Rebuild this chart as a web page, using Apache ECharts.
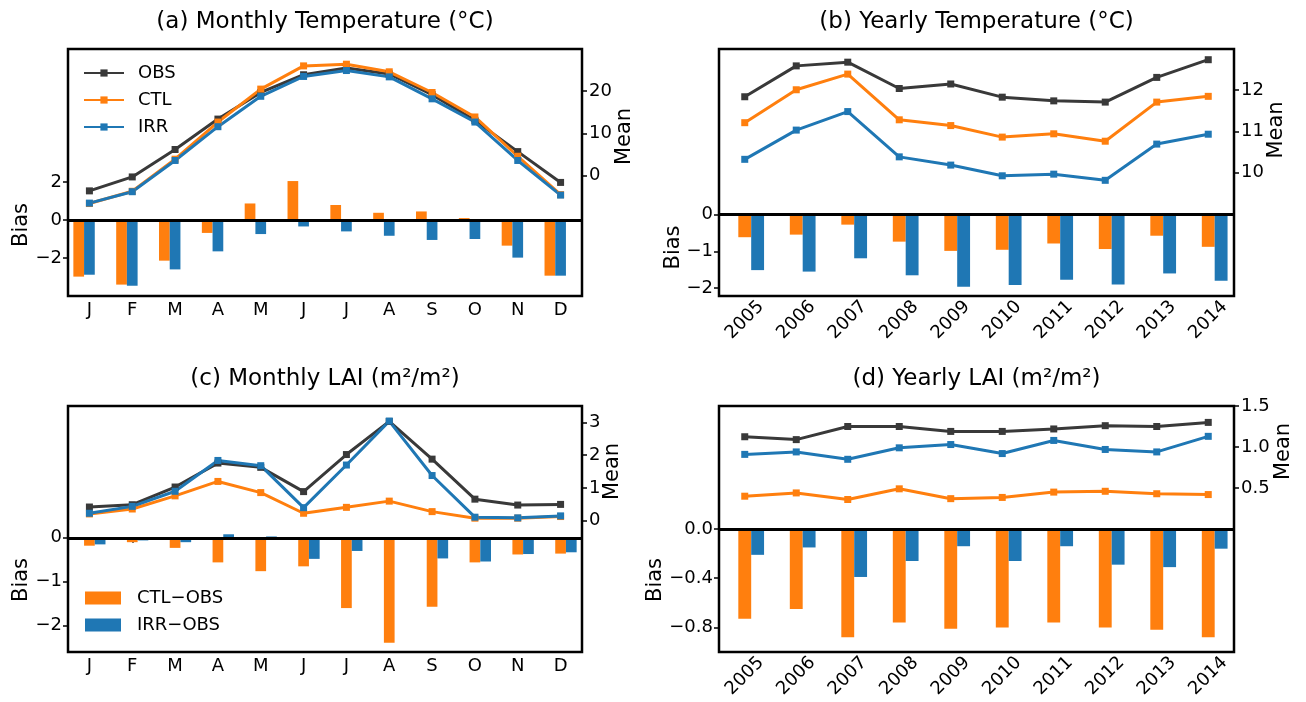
<!DOCTYPE html>
<html><head><meta charset="utf-8">
<script src="https://cdn.jsdelivr.net/npm/echarts@6/dist/echarts.min.js"></script>
<style>html,body{margin:0;padding:0;background:#fff}#c{width:1306px;height:702px}</style>
</head><body><div id="c"></div>
<script>
// ---------- categories ----------
const months = ['J','F','M','A','M','J','J','A','S','O','N','D'];
const years = ['2005','2006','2007','2008','2009','2010','2011','2012','2013','2014'];

// ---------- (a) Monthly temperature ----------
const tempMonthOBS = [-3.6,-0.3,6.2,13.4,19.7,23.9,25.5,24.1,19.2,13.1,5.7,-1.6];
const tempMonthCTL = [-6.6,-3.7,3.9,12.7,20.5,26.0,26.4,24.6,19.7,13.9,4.6,-4.5];
const tempMonthIRR = [-6.5,-3.8,3.6,11.6,18.8,23.5,24.9,23.4,18.2,12.7,3.6,-4.6];
const tempMonthBiasCTL = [-2.98,-3.4,-2.14,-0.68,0.87,2.05,0.79,0.38,0.45,0.1,-1.35,-2.93];
const tempMonthBiasIRR = [-2.88,-3.46,-2.6,-1.65,-0.74,-0.34,-0.6,-0.83,-1.05,-1.0,-1.98,-2.93];

// ---------- (b) Yearly temperature ----------
const tempYearOBS = [11.84,12.59,12.68,12.04,12.15,11.83,11.74,11.71,12.31,12.74];
const tempYearCTL = [11.21,12.01,12.39,11.28,11.14,10.86,10.94,10.76,11.71,11.85];
const tempYearIRR = [10.32,11.03,11.48,10.38,10.18,9.92,9.96,9.81,10.69,10.93];
const tempYearBiasCTL = [-0.62,-0.55,-0.28,-0.74,-0.99,-0.96,-0.79,-0.94,-0.58,-0.88];
const tempYearBiasIRR = [-1.51,-1.55,-1.19,-1.65,-1.96,-1.91,-1.77,-1.90,-1.60,-1.80];

// ---------- (c) Monthly LAI ----------
const laiMonthOBS = [0.42,0.49,1.03,1.76,1.63,0.89,2.02,3.03,1.88,0.66,0.48,0.5];
const laiMonthCTL = [0.21,0.36,0.76,1.2,0.86,0.23,0.41,0.6,0.28,0.08,0.08,0.13];
const laiMonthIRR = [0.23,0.44,0.9,1.84,1.68,0.4,1.7,3.04,1.38,0.11,0.09,0.15];
const laiMonthBiasCTL = [-0.18,-0.1,-0.23,-0.56,-0.76,-0.65,-1.6,-2.39,-1.57,-0.56,-0.38,-0.36];
const laiMonthBiasIRR = [-0.15,-0.06,-0.1,0.08,0.03,-0.48,-0.3,0.0,-0.47,-0.54,-0.37,-0.33];

// ---------- (d) Yearly LAI ----------
const laiYearOBS = [1.125,1.09,1.25,1.25,1.19,1.19,1.22,1.26,1.25,1.30];
const laiYearCTL = [0.40,0.44,0.36,0.49,0.37,0.385,0.45,0.46,0.43,0.42];
const laiYearIRR = [0.91,0.94,0.85,0.99,1.03,0.92,1.08,0.97,0.94,1.13];
const laiYearBiasCTL = [-0.73,-0.65,-0.88,-0.76,-0.81,-0.80,-0.76,-0.80,-0.82,-0.88];
const laiYearBiasIRR = [-0.21,-0.15,-0.39,-0.26,-0.14,-0.26,-0.14,-0.29,-0.31,-0.16];

// ---------- tick labels ----------
const ticksBiasA = [-2,0,2],      ticksMeanA = [0,10,20];
const ticksBiasB = [-2,-1,0],     ticksMeanB = [10,11,12];
const ticksBiasC = [-2,-1,0],     ticksMeanC = [0,1,2,3];
const ticksBiasD = [-0.8,-0.4,0], ticksMeanD = [0.5,1.0,1.5];

// ---------- styling ----------
const FONT = 'DejaVu Sans';
const C_OBS = '#393939', C_CTL = '#ff7f0e', C_IRR = '#1f77b4';
const minus = s => String(s).replace('-', '\u2212');
const fmtInt = v => minus(v);
const fmt1 = v => minus(Number(v).toFixed(1));

const panels = [
  {title:'(a) Monthly Temperature (°C)', cats:months, rot:false,
   grid:{left:68, top:49, width:514, height:247},
   bias:{min:-4, max:9, ticks:ticksBiasA, fmt:fmtInt, gap:36, pad:[0,105,0,0]},
   mean:{min:-28.5, max:30, ticks:ticksMeanA, fmt:fmtInt, gap:32, pad:[0,0,0,72]},
   obs:tempMonthOBS, ctl:tempMonthCTL, irr:tempMonthIRR, bctl:tempMonthBiasCTL, birr:tempMonthBiasIRR,
   spacerFirst:false, titleTop:11},
  {title:'(b) Yearly Temperature (°C)', cats:years, rot:true,
   grid:{left:719, top:49, width:515, height:247},
   bias:{min:-2.21, max:4.47, ticks:ticksBiasB, fmt:fmtInt, gap:35, pad:[0,150,0,0]},
   mean:{min:7, max:13, ticks:ticksMeanB, fmt:fmtInt, gap:32, pad:[0,0,0,85]},
   obs:tempYearOBS, ctl:tempYearCTL, irr:tempYearIRR, bctl:tempYearBiasCTL, birr:tempYearBiasIRR,
   spacerFirst:true, titleTop:11},
  {title:'(c) Monthly LAI (m²/m²)', cats:months, rot:false,
   grid:{left:68, top:406, width:514, height:246},
   bias:{min:-2.6, max:3, ticks:ticksBiasC, fmt:fmtInt, gap:36, pad:[0,102,0,0]},
   mean:{min:-4, max:3.5, ticks:ticksMeanC, fmt:fmtInt, gap:20, pad:[0,0,0,115]},
   obs:laiMonthOBS, ctl:laiMonthCTL, irr:laiMonthIRR, bctl:laiMonthBiasCTL, birr:laiMonthBiasIRR,
   spacerFirst:true, titleTop:368},
  {title:'(d) Yearly LAI (m²/m²)', cats:years, rot:true,
   grid:{left:719, top:406, width:515, height:246},
   bias:{min:-1, max:1, ticks:ticksBiasD, fmt:fmt1, gap:53, pad:[0,102,0,0]},
   mean:{min:-1.5, max:1.5, ticks:ticksMeanD, fmt:fmt1, gap:39, pad:[0,0,0,155]},
   obs:laiYearOBS, ctl:laiYearCTL, irr:laiYearIRR, bctl:laiYearBiasCTL, birr:laiYearBiasIRR,
   spacerFirst:true, titleTop:368}
];

const tickStyle = {color:'#000', width:1.5};
const labelText = {fontSize:18, fontFamily:FONT, color:'#000'};

const option = {
  animation:false, backgroundColor:'#fff',
  title:[], grid:[], xAxis:[], yAxis:[], series:[],
  legend:[
    {data:['OBS','CTL','IRR'], orient:'vertical', left:83, top:63, padding:0,
     itemWidth:40, itemHeight:9, itemGap:7,
     textStyle:{fontSize:18, fontFamily:FONT, color:'#000', lineHeight:20, padding:[0,0,0,9]}},
    {data:['CTL\u2212OBS','IRR\u2212OBS'], orient:'vertical', left:85, top:588, padding:0,
     icon:'rect', itemWidth:36, itemHeight:13, itemGap:7,
     textStyle:{fontSize:18, fontFamily:FONT, color:'#000', lineHeight:20, padding:[0,0,0,11]}}
  ]
};

panels.forEach((p, i) => {
  option.title.push({text:p.title, left:p.grid.left + p.grid.width/2, top:p.titleTop, textAlign:'center', padding:0,
    textStyle:{fontSize:23, fontWeight:'normal', fontFamily:FONT, color:'#000'}});
  option.grid.push(Object.assign({show:true, borderColor:'#000', borderWidth:2.5, backgroundColor:'transparent', containLabel:false}, p.grid));
  option.xAxis.push({type:'category', gridIndex:i, data:p.cats, boundaryGap:true,
    axisLine:{show:false}, splitLine:{show:false},
    axisTick:{show:true, alignWithLabel:true, length:5, lineStyle:tickStyle},
    axisLabel: p.rot ? Object.assign({interval:0, rotate:45, align:'center', verticalAlign:'middle', margin:24}, labelText)
                     : Object.assign({interval:0, margin:5}, labelText)});
  [['bias','left','Bias'],['mean','right','Mean']].forEach(([k, side, name]) => {
    const a = p[k];
    option.yAxis.push({type:'value', gridIndex:i, position:side, min:a.min, max:a.max,
      splitLine:{show:false}, axisLine:{show:false},
      axisTick:{show:true, customValues:a.ticks, length:5, lineStyle:tickStyle},
      axisLabel:Object.assign({customValues:a.ticks, margin: side==='left' ? 6 : 7, formatter:a.fmt}, labelText),
      name:name, nameLocation:'middle', nameRotate:90, nameGap:a.gap, nameMoveOverlap:false,
      nameTextStyle:{fontSize:21, fontFamily:FONT, color:'#000', padding:a.pad}});
  });
  const bi = 2*i, mi = 2*i + 1;
  const spacer = {type:'bar', xAxisIndex:i, yAxisIndex:bi, data:[], barWidth:'25%', barGap:'0%', silent:true};
  if (p.spacerFirst) option.series.push(spacer);
  option.series.push({name:'CTL\u2212OBS', type:'bar', xAxisIndex:i, yAxisIndex:bi, data:p.bctl,
    barWidth:'25%', barGap:'0%', itemStyle:{color:C_CTL},
    markLine:{silent:true, symbol:'none', label:{show:false}, data:[{yAxis:0}],
      lineStyle:{color:'#000', width:3, type:'solid'}, z:5}});
  option.series.push({name:'IRR\u2212OBS', type:'bar', xAxisIndex:i, yAxisIndex:bi, data:p.birr,
    barWidth:'25%', barGap:'0%', itemStyle:{color:C_IRR}});
  if (!p.spacerFirst) option.series.push(spacer);
  [['OBS', p.obs, C_OBS], ['CTL', p.ctl, C_CTL], ['IRR', p.irr, C_IRR]].forEach(([nm, d, c]) => {
    option.series.push({name:nm, type:'line', xAxisIndex:i, yAxisIndex:mi, data:d,
      symbol:'rect', symbolSize:7, showSymbol:true, z:4,
      lineStyle:{color:c, width:3}, itemStyle:{color:c}});
  });
});

const chart = echarts.init(document.getElementById('c'), null, {renderer:'canvas'});
chart.setOption(option);
</script>
</body></html>
